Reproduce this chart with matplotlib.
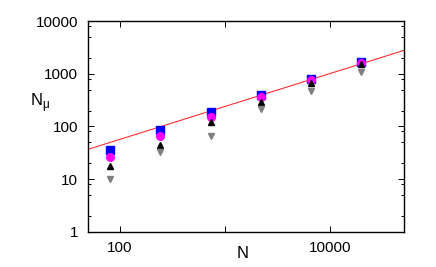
import matplotlib
matplotlib.use('Agg')
import matplotlib.pyplot as plt
import matplotlib.ticker as ticker

plt.rcParams['font.family'] = ['Liberation Sans', 'DejaVu Sans']

# data
N = [81, 243, 729, 2187, 6561, 19683]
blue_sq = [35, 86, 187, 393, 800, 1680]
magenta_circ = [26, 66, 152, 355, 746, 1590]
black_up = [17.6, 45, 119, 285, 662, 1515]
gray_down = [9.9, 32.5, 65, 213, 474, 1087]

# red fit line endpoints
fit_N = [50, 50000]
fit_Nmu = [36.6, 2770]

fig = plt.figure(figsize=(4.36, 2.67), dpi=100)
ax = fig.add_axes([0.2018, 0.1322, 0.7248, 0.7891])

ax.plot(fit_N, fit_Nmu, color='#ff3030', linewidth=0.8, zorder=1)
ax.plot(N, blue_sq, 's', color='#0000ff', markersize=5.5, linestyle='none', zorder=2)
ax.plot(N, magenta_circ, 'o', color='#ff00ff', markersize=5.5, linestyle='none', zorder=3)
ax.plot(N, black_up, '^', color='black', markersize=5, linestyle='none', zorder=4)
ax.plot(N, gray_down, 'v', color='#808080', markersize=5, linestyle='none', zorder=5)

ax.set_xscale('log')
ax.set_yscale('log')
ax.set_xlim(50, 50000)
ax.set_ylim(1, 10000)

# x: majors at 100, 1000, 10000, only 100 and 10000 labelled
ax.xaxis.set_major_locator(ticker.FixedLocator([100, 1000, 10000]))
ax.xaxis.set_major_formatter(ticker.FixedFormatter(['100', '', '10000']))
ax.xaxis.set_minor_locator(ticker.NullLocator())

ax.yaxis.set_major_locator(ticker.FixedLocator([1, 10, 100, 1000, 10000]))
ax.yaxis.set_major_formatter(ticker.FixedFormatter(['1', '10', '100', '1000', '10000']))
ax.yaxis.set_minor_locator(ticker.LogLocator(base=10, subs=[2, 5, 8]))
ax.yaxis.set_minor_formatter(ticker.NullFormatter())

ax.tick_params(which='both', direction='in', top=True, right=True, labelsize=11, width=0.7)
ax.tick_params(which='major', length=4, pad=7)
ax.tick_params(which='minor', length=2)
for s in ax.spines.values():
    s.set_linewidth(1.0)

fig.text(243 / 436, 1 - 254 / 267, 'N', fontsize=12, ha='center', va='center')
fig.text(40 / 436, 1 - 103 / 267, r'N$_\mathregular{\mu}$', fontsize=12, ha='center', va='center')

fig.savefig('out.png', dpi=100)
